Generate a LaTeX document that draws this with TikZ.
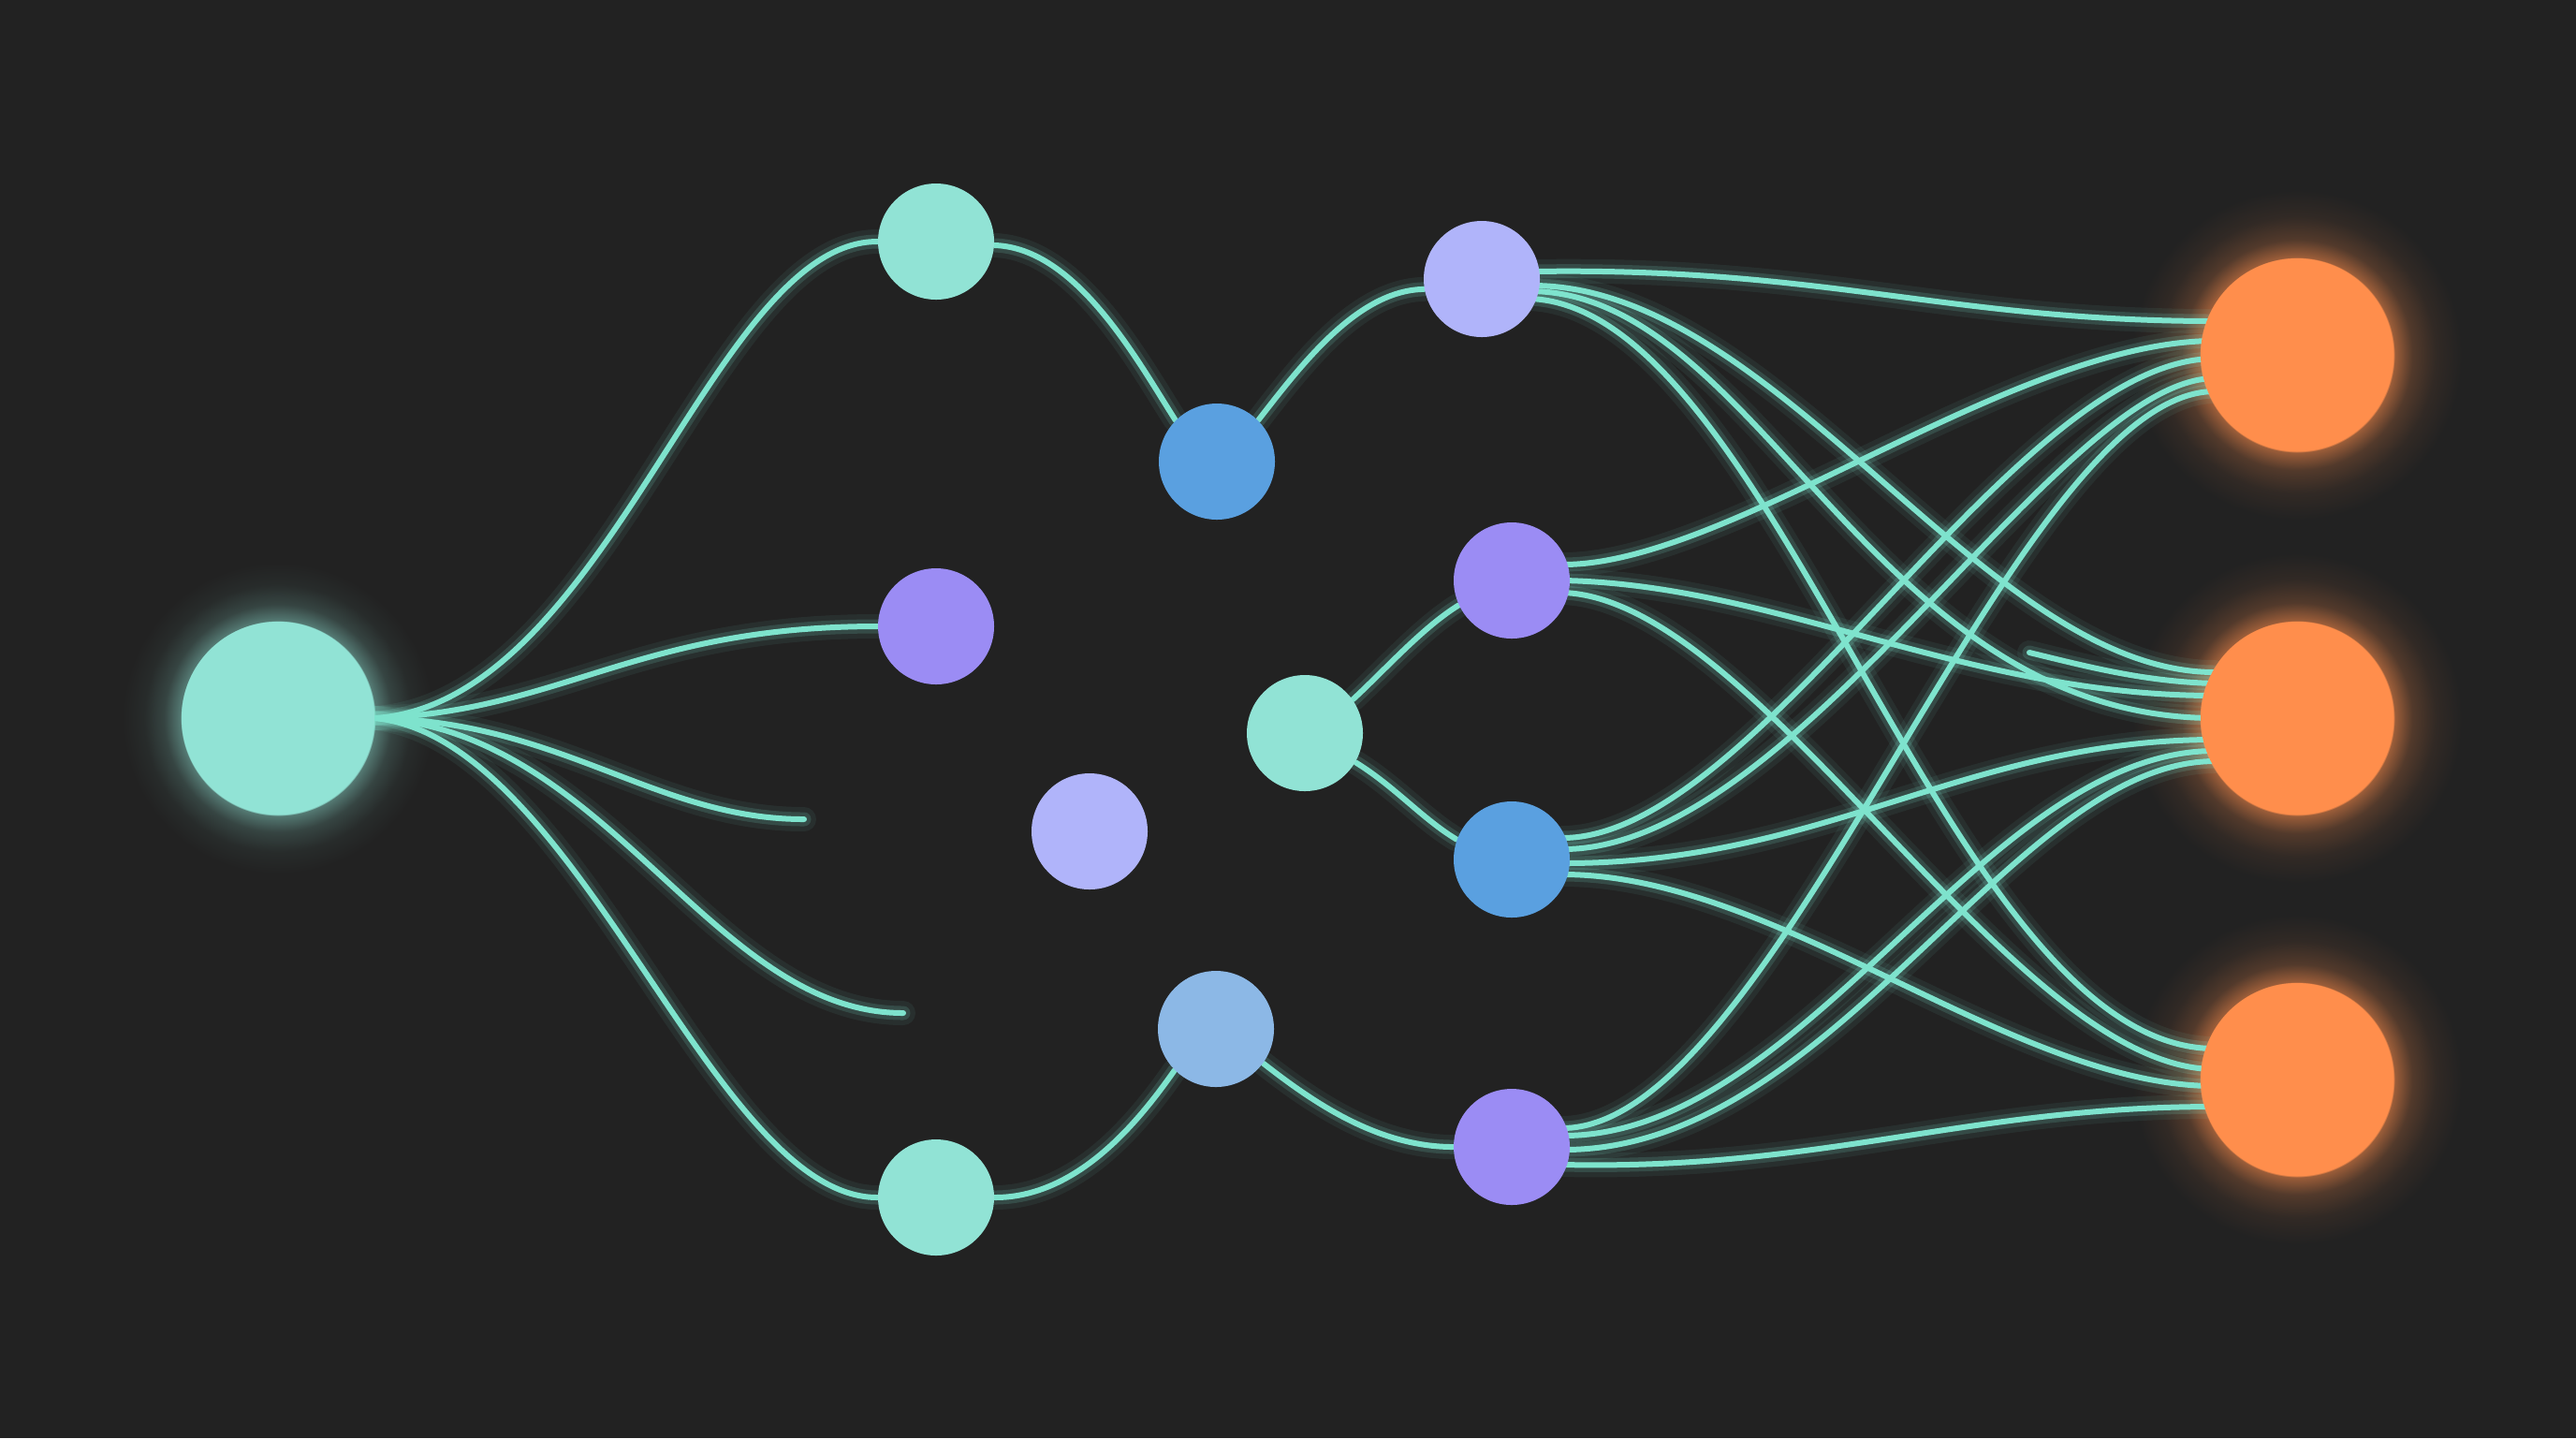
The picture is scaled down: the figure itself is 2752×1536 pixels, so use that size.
\documentclass[tikz,border=0pt]{standalone}
\usetikzlibrary{calc,backgrounds}
\definecolor{bg}{RGB}{34,34,34}
\definecolor{lnk}{RGB}{126,227,205}
\definecolor{cTeal}{RGB}{145,227,213}
\definecolor{cLav}{RGB}{176,180,250}
\definecolor{cPurple}{RGB}{155,140,244}
\definecolor{cBlue}{RGB}{90,160,224}
\definecolor{cLblue}{RGB}{140,184,230}
\definecolor{cOrange}{RGB}{255,142,76}
\colorlet{oGa}{cOrange!55!bg}
\colorlet{oGb}{cOrange!22!bg}
\colorlet{oGc}{cOrange!7!bg}
\colorlet{tGa}{cTeal!45!bg}
\colorlet{tGb}{cTeal!18!bg}
\colorlet{tGc}{cTeal!5!bg}
\pgfdeclareradialshading{glowO}{\pgfpoint{0bp}{0bp}}{color(0bp)=(cOrange); color(14.6bp)=(cOrange); color(14.8bp)=(oGa); color(17.5bp)=(oGb); color(21bp)=(oGc); color(25bp)=(bg); color(50bp)=(bg)}
\pgfdeclareradialshading{glowT}{\pgfpoint{0bp}{0bp}}{color(0bp)=(cTeal); color(15.5bp)=(cTeal); color(15.7bp)=(tGa); color(18.3bp)=(tGb); color(21.5bp)=(tGc); color(25bp)=(bg); color(50bp)=(bg)}
\tikzset{
  nd/.style={circle, inner sep=0pt, minimum size=12.4mm, draw=none},
  bignd/.style={circle, inner sep=0pt, minimum size=20.6mm, draw=none},
  link/.style={draw=lnk, line width=0.6mm, line cap=round,
    preaction={draw=lnk, draw opacity=0.07, line width=2.6mm, line cap=round},
    preaction={draw=lnk, draw opacity=0.16, line width=1.5mm, line cap=round}},
}
\begin{document}
\begin{tikzpicture}[x=0.1mm, y=-0.1mm]
\useasboundingbox (0,0) rectangle (2752,1536);
% nodes
\node[bignd, fill=cTeal] (S) at (297,767) {};
\node[nd, fill=cTeal] (A) at (1000,258) {};
\node[nd, fill=cPurple] (B) at (1000,669) {};
\node[nd, fill=cLav] (C) at (1164,888) {};
\node[nd, fill=cTeal] (D) at (1000,1279) {};
\node[nd, fill=cBlue] (E) at (1300,493) {};
\node[nd, fill=cLblue] (F) at (1299,1099) {};
\node[nd, fill=cTeal] (G) at (1394,783) {};
\node[nd, fill=cLav] (H) at (1583,298) {};
\node[nd, fill=cPurple] (I) at (1615,620) {};
\node[nd, fill=cBlue] (J) at (1615,918) {};
\node[nd, fill=cPurple] (K) at (1615,1225) {};
\node[bignd, fill=cOrange] (O1) at (2454,379) {};
\node[bignd, fill=cOrange] (O2) at (2454,767) {};
\node[bignd, fill=cOrange] (O3) at (2454,1153) {};
\coordinate (s1) at (859,875);
\coordinate (s2) at (965,1082);
\coordinate (s3) at (2168,697);
\begin{scope}[on background layer]
\fill[bg] (0,0) rectangle (2752,1536);
\shade[shading=glowT] (S) circle (16.6mm);
\shade[shading=glowO] (O1) circle (17.6mm);
\shade[shading=glowO] (O2) circle (17.6mm);
\shade[shading=glowO] (O3) circle (17.6mm);
% left fan
\draw[link] (S.east) .. controls (650,750) and (760,258) .. (A.west);
\draw[link] (S.east) .. controls (600,760) and (680,669) .. (B.west);
\draw[link] (S.east) .. controls (600,770) and (700,875) .. (s1);
\draw[link] (S.east) .. controls (650,780) and (760,1082) .. (s2);
\draw[link] (S.east) .. controls (620,790) and (760,1279) .. (D.west);
% middle
\draw[link] ($(A.east)+(0,4)$) .. controls (1150,265) and (1215,385) .. (E.135);
\draw[link] (E.45) .. controls (1390,390) and (1450,310) .. (H.190);
\draw[link] (D.east) .. controls (1150,1279) and (1215,1200) .. (F.225);
\draw[link] (F.-36) .. controls (1400,1175) and (1470,1225) .. (K.west);
\draw[link] (G.35) .. controls (1480,715) and (1520,670) .. (I.205);
\draw[link] (G.-30) .. controls (1490,840) and (1520,875) .. (J.160);
% right tangle: from H
\draw[link] ($(H)+(55,-8)$) .. controls (1950,285) and (2080,343) .. ($(O1)+(-88,-36)$);
\draw[link] ($(H)+(54,7)$) .. controls (1900,305) and (2120,718) .. ($(O2)+(-88,-49)$);
\draw[link] ($(H)+(54,13)$) .. controls (1880,315) and (2000,767) .. ($(O2)+(-88,0)$);
\draw[link] ($(H)+(52,21)$) .. controls (1900,330) and (2080,1120) .. ($(O3)+(-88,-33)$);
% from I
\draw[link] ($(I)+(55,-17)$) .. controls (1850,603) and (2150,364) .. ($(O1)+(-88,-15)$);
\draw[link] ($(I)+(56,0)$) .. controls (1900,625) and (2100,743) .. ($(O2)+(-88,-24)$);
\draw[link] ($(I)+(55,13)$) .. controls (1880,640) and (2150,1142) .. ($(O3)+(-88,-11)$);
% stub
\draw[link] (s3) .. controls (2230,712) and (2290,728) .. ($(O2)+(-88,-37)$);
% from J
\draw[link] ($(J)+(54,-23)$) .. controls (1880,895) and (2150,383) .. ($(O1)+(-88,4)$);
\draw[link] ($(J)+(55,-11)$) .. controls (1920,907) and (2200,404) .. ($(O1)+(-88,25)$);
\draw[link] ($(J)+(56,4)$) .. controls (1950,922) and (2100,790) .. ($(O2)+(-88,23)$);
\draw[link] ($(J)+(55,16)$) .. controls (1900,934) and (2150,1160) .. ($(O3)+(-88,7)$);
% from K
\draw[link] ($(K)+(54,-20)$) .. controls (1900,1205) and (2150,418) .. ($(O1)+(-88,39)$);
\draw[link] ($(K)+(55,-12)$) .. controls (1930,1213) and (2120,802) .. ($(O2)+(-88,35)$);
\draw[link] ($(K)+(56,3)$) .. controls (1960,1228) and (2150,813) .. ($(O2)+(-88,46)$);
\draw[link] ($(K)+(55,19)$) .. controls (1950,1250) and (2100,1182) .. ($(O3)+(-88,29)$);
\end{scope}
\end{tikzpicture}
\end{document}
